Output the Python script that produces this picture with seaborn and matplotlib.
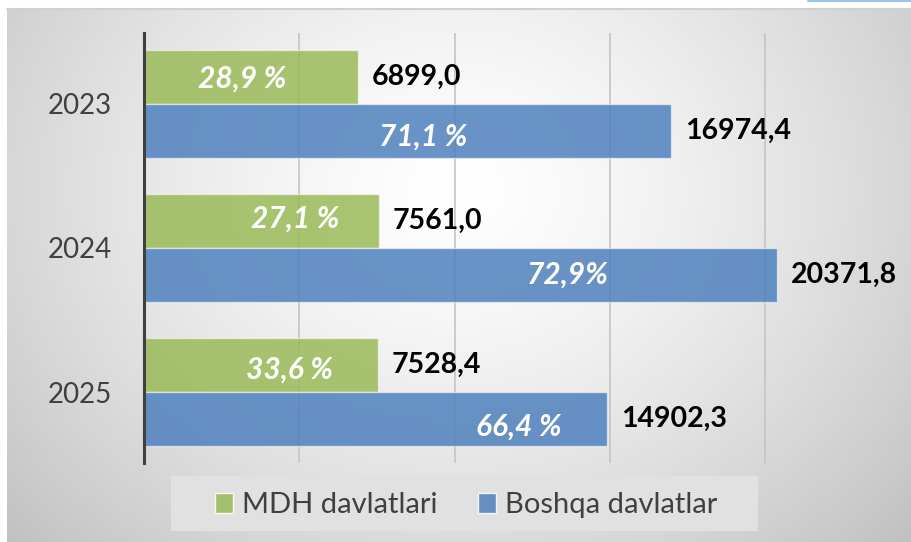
import numpy as np
import pandas as pd
import matplotlib
matplotlib.use('Agg')
import matplotlib.pyplot as plt
from matplotlib.patches import Patch, Rectangle
from matplotlib.lines import Line2D
import seaborn as sns

# --- Ma'lumotlar ---
years = ['2023', '2024', '2025']
series = ['MDH davlatlari', 'Boshqa davlatlar']
mdh_values = [6899.0, 7561.0, 7528.4]
boshqa_values = [16974.4, 20371.8, 14902.3]
mdh_pct = ['28,9 %', '27,1 %', '33,6 %']
boshqa_pct = ['71,1 %', '72,9%', '66,4 %']

# --- Uslub ---
GREEN = '#9BBB59'
BLUE = '#4F81BD'
TEXT = '#404040'
FS = 20
# foiz yozuvlarining ustun uzunligiga nisbatan joyi va vertikal siljishi (pt)
pct_frac = [[0.46, 0.645, 0.62], [0.53, 0.67, 0.81]]
pct_dy = [[-1, 2, -3], [-4, 0, -5]]

sns.set_style('white')
plt.rcParams['font.family'] = ['Lato', 'DejaVu Sans']

df = pd.DataFrame({
    'yil': years * 2,
    'guruh': [series[0]] * 3 + [series[1]] * 3,
    'qiymat': mdh_values + boshqa_values,
})

W, H = 912, 542
fig = plt.figure(figsize=(W / 100, H / 100), dpi=100)
fig.patch.set_facecolor('white')

# radial gradient fon
bg = fig.add_axes([7 / W, 0, 1 - 7 / W, (H - 9) / H])
xs = np.arange(7, W)
ys = np.arange(9, H)
X, Y = np.meshgrid(xs, ys)
d = np.sqrt(((X - 456) / 470) ** 2 + ((Y - 190) / 400) ** 2)
v = np.clip(255 - 43 * d ** 1.4, 180, 255) / 255
bg.imshow(np.dstack([v, v, v]), aspect='auto', interpolation='bilinear')
bg.axis('off')
fig.add_artist(Line2D([7 / W, 1], [1 - 8.5 / H] * 2, transform=fig.transFigure,
                      color='#d0d0d0', lw=1.5))
fig.add_artist(Line2D([808 / W, 1], [1 - 0.5 / H] * 2, transform=fig.transFigure,
                      color='#9dc3e6', lw=1.5))

ax = fig.add_axes([144 / W, 79 / H, 1 - 144 / W, 430 / H])
ax.set_facecolor('none')

sns.barplot(data=df, x='qiymat', y='yil', hue='guruh', orient='h',
            palette=[GREEN, BLUE], saturation=1, width=0.748,
            errorbar=None, legend=False, ax=ax)

for container, color in zip(ax.containers, [GREEN, BLUE]):
    rgb = matplotlib.colors.to_rgb(color)
    for bar in container:
        bar.set_facecolor((*rgb, 0.85))
        bar.set_edgecolor((1, 1, 1, 0.55))
        bar.set_linewidth(1)

ax.set_xlim(0, 24718)
ax.set_ylim(2.49, -0.49)
ax.set_xticks([0, 5000, 10000, 15000, 20000])
ax.xaxis.grid(True, color='#c4c4c4', lw=1.2)
ax.set_axisbelow(True)
ax.tick_params(axis='x', direction='in', length=11.5, width=1.2,
               color='#8c8c8c', labelbottom=False)
ax.tick_params(axis='y', length=0, pad=23, labelsize=FS, labelcolor=TEXT)
ax.set_xlabel('')
ax.set_ylabel('')
for side in ['top', 'right', 'bottom']:
    ax.spines[side].set_visible(False)
ax.spines['left'].set_color(TEXT)
ax.spines['left'].set_linewidth(2.2)

for k, (container, pcts) in enumerate(zip(ax.containers, [mdh_pct, boshqa_pct])):
    for i, (bar, pct) in enumerate(zip(container, pcts)):
        w = bar.get_width()
        yc = bar.get_y() + bar.get_height() / 2
        ax.annotate(f'{w:.1f}'.replace('.', ','), (w, yc), xytext=(10, 0),
                    textcoords='offset points', ha='left', va='center',
                    fontsize=20.5, fontweight='bold', color='black')
        ax.annotate(pct, (w * pct_frac[k][i], yc), xytext=(0, pct_dy[k][i]),
                    textcoords='offset points', ha='center', va='center',
                    fontsize=21.5, fontweight='bold', fontstyle='italic',
                    color='white')

# legend
fig.add_artist(Rectangle((171 / W, 1 - 531 / H), (758 - 171) / W, 55 / H,
                         transform=fig.transFigure, facecolor='#e1e1e1',
                         edgecolor='none'))
handles = [Patch(facecolor=c, alpha=0.85, edgecolor=(1, 1, 1, 0.5)) for c in [GREEN, BLUE]]
fig.legend(handles=handles, labels=series, loc='center',
           bbox_to_anchor=(466 / W, 1 - 505 / H), ncol=2, frameon=False,
           fontsize=21, handlelength=0.62, handleheight=0.7,
           handletextpad=0.3, columnspacing=1.4, labelcolor=TEXT)

fig.savefig('out.png', dpi=100)
